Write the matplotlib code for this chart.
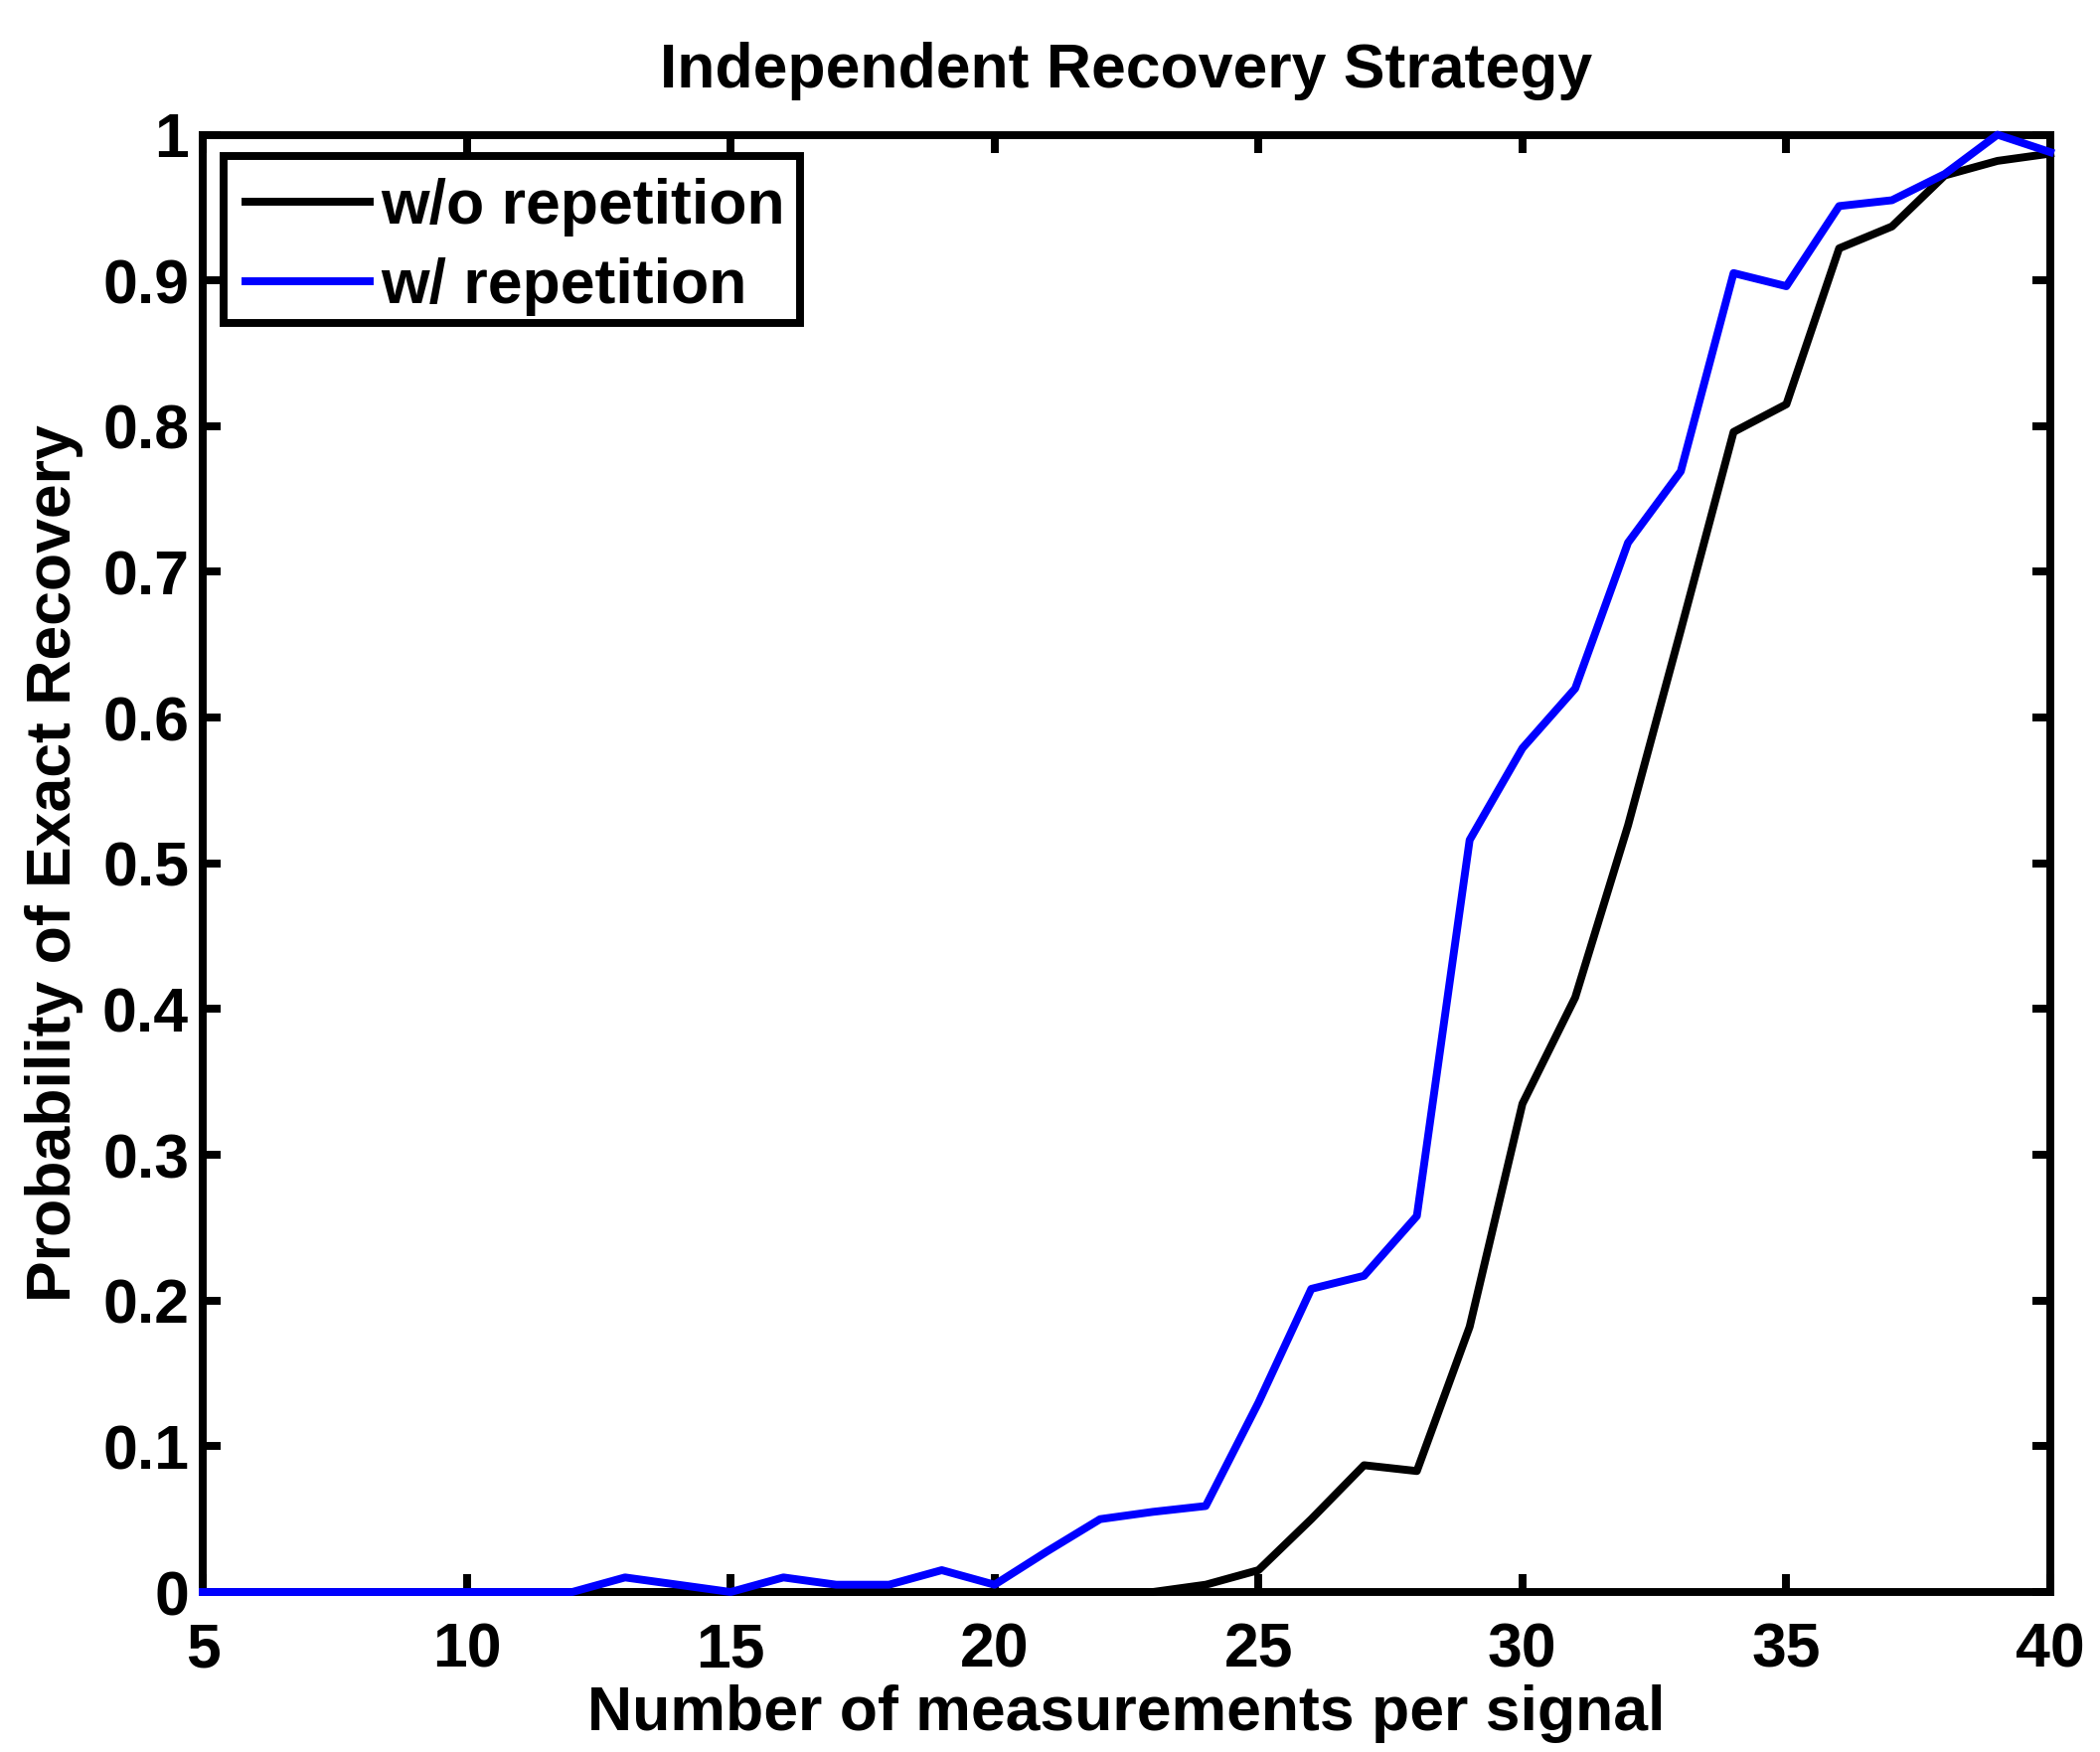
import matplotlib
matplotlib.use("Agg")
import matplotlib.pyplot as plt
from matplotlib.patches import Rectangle

# ---- data ----
measurements = list(range(5, 41))
without_rep = [0, 0, 0, 0, 0, 0, 0, 0, 0, 0,      # 5-14
               0, 0, 0, 0, 0, 0, 0, 0, 0,         # 15-23
               0.005, 0.015, 0.05, 0.087, 0.083,  # 24-28
               0.182, 0.335, 0.408, 0.526, 0.66,  # 29-33
               0.796, 0.815, 0.922, 0.937, 0.972, # 34-38
               0.982, 0.987]                      # 39-40
with_rep = [0, 0, 0, 0, 0, 0, 0, 0,               # 5-12
            0.01, 0.005, 0, 0.01, 0.005, 0.005,   # 13-18
            0.015, 0.005, 0.028, 0.05, 0.055,     # 19-23
            0.059, 0.13, 0.208, 0.217, 0.258,     # 24-28
            0.516, 0.579, 0.62, 0.72, 0.769,      # 29-33
            0.905, 0.896, 0.951, 0.955, 0.973,    # 34-38
            1.0, 0.988]                           # 39-40
series_labels = ["w/o repetition", "w/ repetition"]
x_ticks = [5, 10, 15, 20, 25, 30, 35, 40]
y_ticks = [0, 0.1, 0.2, 0.3, 0.4, 0.5, 0.6, 0.7, 0.8, 0.9, 1]
y_tick_labels = ["0", "0.1", "0.2", "0.3", "0.4", "0.5", "0.6", "0.7", "0.8", "0.9", "1"]
title = "Independent Recovery Strategy"
xlabel = "Number of measurements per signal"
ylabel = "Probability of Exact Recovery"

# ---- style ----
plt.rcParams['font.family'] = ['Liberation Sans', 'DejaVu Sans']
plt.rcParams['font.weight'] = 'bold'
FS = 45
LW = 5.7
W, H = 2113, 1763
L, R, T, B = 204, 2063, 135.5, 1602

fig = plt.figure(figsize=(W / 100, H / 100), dpi=100)
ax = fig.add_axes([L / W, 1 - B / H, (R - L) / W, (B - T) / H])

ax.plot(measurements, without_rep, color='black', lw=LW, label=series_labels[0],
        clip_on=False, zorder=3)
ax.plot(measurements, with_rep, color='#0000ff', lw=LW, label=series_labels[1],
        clip_on=False, zorder=3)

ax.set_xlim(5, 40)
ax.set_ylim(0, 1)
ax.set_xticks(x_ticks)
ax.set_xticklabels([str(t) for t in x_ticks])
ax.set_yticks(y_ticks)
ax.set_yticklabels(y_tick_labels)

for s in ax.spines.values():
    s.set_linewidth(LW)
    s.set_zorder(2.5)

ax.tick_params(axis='both', which='major', direction='in', length=13, width=LW,
               top=True, right=True, labelsize=FS)
ax.tick_params(axis='x', pad=21)
ax.tick_params(axis='y', pad=10)
for lab in ax.get_xticklabels() + ax.get_yticklabels():
    lab.set_fontweight('bold')

ax.set_title(title, fontsize=FS, fontweight='bold', pad=34)
ax.set_xlabel(xlabel, fontsize=FS, fontweight='bold')
ax.set_ylabel(ylabel, fontsize=FS, fontweight='bold')
ax.xaxis.set_label_coords(0.5, -0.0634)
ax.yaxis.set_label_coords(-0.0645, 0.5)

# legend frame (drawn separately for tight MATLAB-like box)
lx0 = (225 - L) / (R - L)
lx1 = (805 - L) / (R - L)
ly1 = 1 - (157 - T) / (B - T)
ly0 = 1 - (325 - T) / (B - T)
frame = Rectangle((lx0, ly0), lx1 - lx0, ly1 - ly0, transform=ax.transAxes,
                  facecolor='white', edgecolor='black', lw=LW, zorder=4,
                  clip_on=False)
ax.add_patch(frame)

leg = ax.legend(loc='upper left', bbox_to_anchor=(lx0, ly1), borderaxespad=0,
                fontsize=FS, frameon=False, handlelength=2.0, handletextpad=0.18,
                borderpad=0.35, labelspacing=0.33)
leg.set_zorder(5)
for t in leg.get_texts():
    t.set_fontweight('bold')
for h in leg.get_lines():
    h.set_linewidth(LW)

fig.savefig("out.png", dpi=100, facecolor='white')
